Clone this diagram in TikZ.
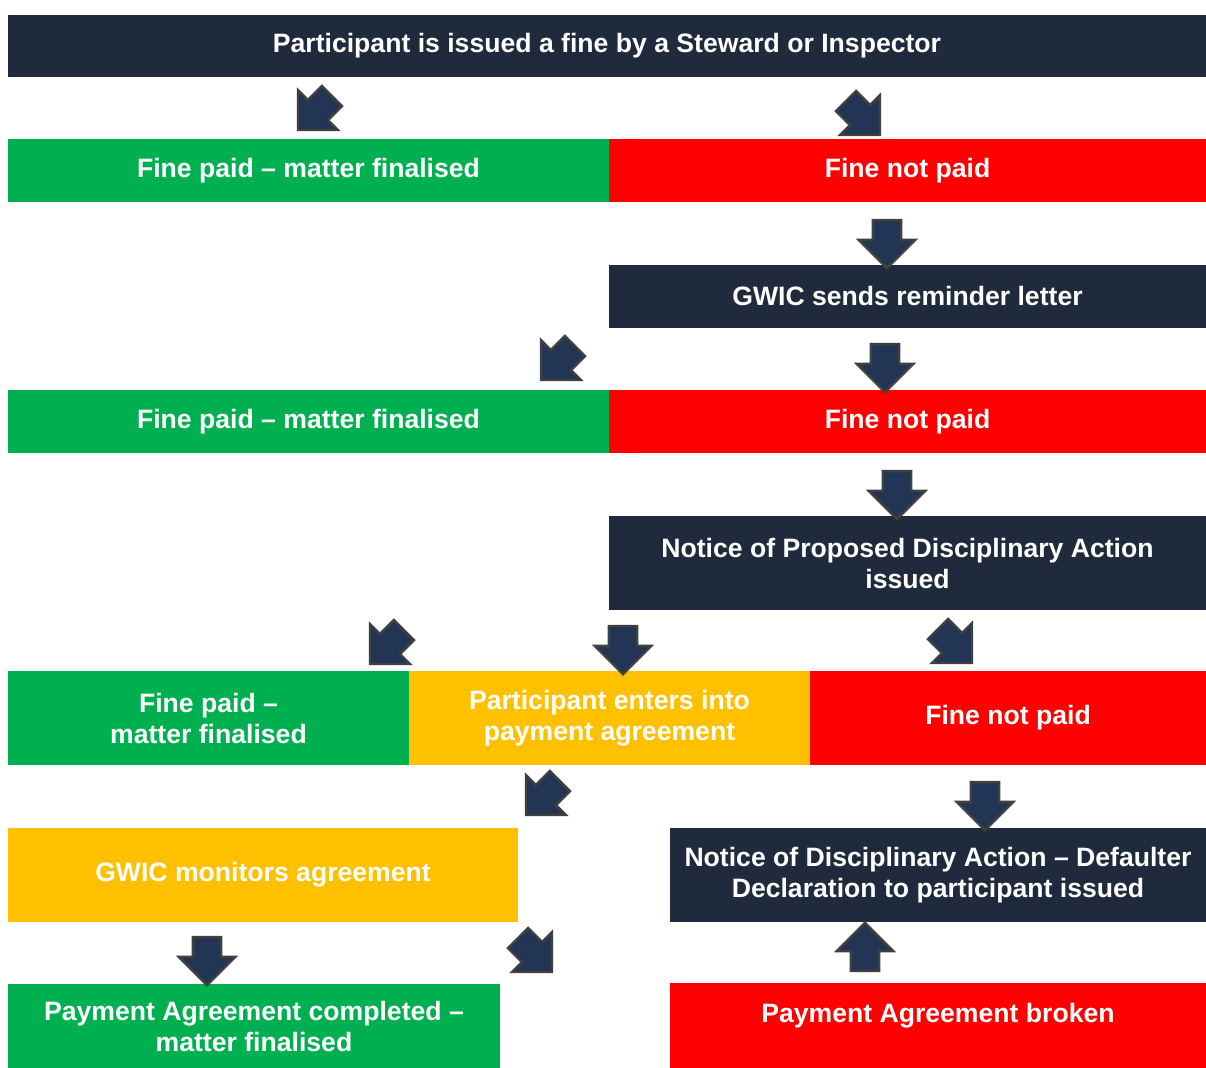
\documentclass[tikz,border=0pt]{standalone}
\usepackage{fontspec}
\setmainfont{Liberation Sans}
\usetikzlibrary{shapes.arrows}
\definecolor{navy}{HTML}{1F2A3C}
\definecolor{okgreen}{HTML}{00B050}
\definecolor{badred}{HTML}{FF0000}
\definecolor{amber}{HTML}{FFC000}
\definecolor{arrowblue}{HTML}{223554}
\tikzset{box/.style={inner sep=0pt,text=white,align=center,font=\bfseries\fontsize{13.3}{15.5}\selectfont},
  navybox/.style={box,fill=navy},
  greenbox/.style={box,fill=okgreen},
  redbox/.style={box,fill=badred},
  amberbox/.style={box,fill=amber},
  blockarrow/.style={single arrow,draw=black!75,fill=arrowblue,line width=1.2pt,inner sep=6.5pt,
    minimum height=24pt,single arrow head extend=7pt}}

\begin{document}
\begin{tikzpicture}[x=0.5pt,y=-0.5pt]
    \useasboundingbox (0,0) rectangle (1206,1068);

    % top
    \node[navybox,minimum width=599pt,minimum height=31pt] (head) at (607,46) {Participant is issued a fine by a Steward or Inspector};

    % first outcome
    \node[greenbox,minimum width=300.5pt,minimum height=31.5pt] (paidA) at (308.5,170.5) {Fine paid -- matter finalised};
    \node[redbox,minimum width=298.5pt,minimum height=31.5pt] (unpaidA) at (907.5,170.5) {Fine not paid};
    \node[navybox,minimum width=298.5pt,minimum height=31.5pt] (reminder) at (907.5,296.5) {GWIC sends reminder letter};

    % second outcome
    \node[greenbox,minimum width=300.5pt,minimum height=31.5pt] (paidB) at (308.5,421.5) {Fine paid -- matter finalised};
    \node[redbox,minimum width=298.5pt,minimum height=31.5pt] (unpaidB) at (907.5,421.5) {Fine not paid};
    \node[navybox,minimum width=298.5pt,minimum height=47pt] (notice) at (907.5,563) {Notice of Proposed Disciplinary Action\\issued};

    % third outcome
    \node[greenbox,minimum width=200.5pt,minimum height=47pt] (paidC) at (208.5,718) {Fine paid --\\matter finalised};
    \node[amberbox,minimum width=200.5pt,minimum height=47pt] (agree) at (609.5,718) {Participant enters into\\payment agreement};
    \node[redbox,minimum width=198pt,minimum height=47pt] (unpaidC) at (1008,718) {Fine not paid};

    % agreement
    \node[amberbox,minimum width=255pt,minimum height=47pt] (monitor) at (263,875) {GWIC monitors agreement};
    \node[navybox,minimum width=268pt,minimum height=47pt] (declare) at (938,875) {Notice of Disciplinary Action -- Defaulter\\Declaration to participant issued};
    \node[greenbox,minimum width=246pt,minimum height=42.5pt] (complete) at (254,1026.5) {Payment Agreement completed --\\matter finalised};
    \node[redbox,minimum width=268pt,minimum height=42.5pt,text depth=13pt] (broken) at (938,1025.5) {Payment Agreement broken};

    % block arrows
    \node[blockarrow,rotate=-135] (a1) at (320,108) {};
    \node[blockarrow,rotate=-45] (a2) at (858,113) {};
    \node[blockarrow,rotate=-90] (a3) at (887,237) {};
    \node[blockarrow,rotate=-135] (a4) at (563,358) {};
    \node[blockarrow,rotate=-90] (a5) at (885,361) {};
    \node[blockarrow,rotate=-90] (a6) at (897,488) {};
    \node[blockarrow,rotate=-135] (a7) at (392,642) {};
    \node[blockarrow,rotate=-90] (a8) at (623,643) {};
    \node[blockarrow,rotate=-45] (a9) at (950,641) {};
    \node[blockarrow,rotate=-135] (a10) at (548,793) {};
    \node[blockarrow,rotate=-90] (a11) at (985,799) {};
    \node[blockarrow,rotate=-90] (a12) at (207,954) {};
    \node[blockarrow,rotate=-45] (a13) at (530,950) {};
    \node[blockarrow,rotate=90] (a14) at (865,954) {};
\end{tikzpicture}
\end{document}
